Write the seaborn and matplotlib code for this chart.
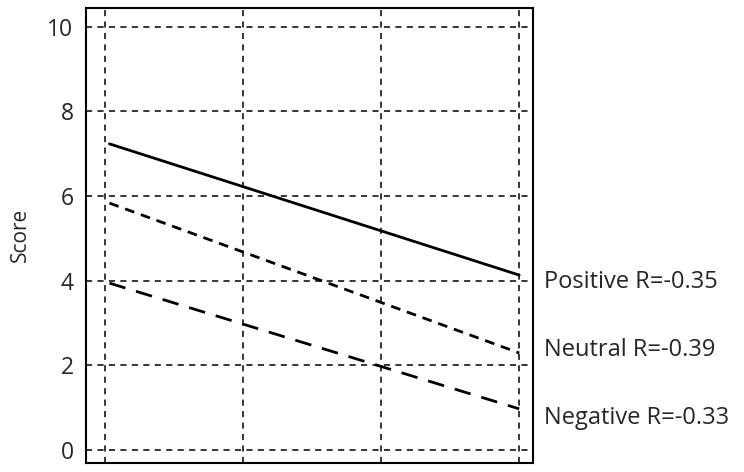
import matplotlib
matplotlib.use("Agg")
import matplotlib.pyplot as plt
import seaborn as sns
import pandas as pd

groups = ["Positive", "Neutral", "Negative"]
r_values = ["-0.35", "-0.39", "-0.33"]
x_start, x_end = 0.03, 3.0
start_scores = [7.23, 5.83, 3.94]
end_scores = [4.13, 2.29, 0.97]
label_y = [3.97, 2.36, 0.76]
y_ticks = [0, 2, 4, 6, 8, 10]
x_grid = [0, 1, 2, 3]

rows = []
for g, s, e in zip(groups, start_scores, end_scores):
    rows.append({"x": x_start, "Score": s, "group": g})
    rows.append({"x": x_end, "Score": e, "group": g})
df = pd.DataFrame(rows)

sns.set_style("white")
plt.rcParams['font.family'] = ['Open Sans', 'DejaVu Sans']

fig = plt.figure(figsize=(7.44, 4.72), dpi=100)
ax = fig.add_axes([0.1156, 0.019, 0.6008, 0.965])

dashes = {"Positive": "", "Neutral": (3.5, 2.5), "Negative": (6, 4)}
sns.lineplot(data=df, x="x", y="Score", style="group", dashes=dashes,
             color="black", linewidth=2, legend=False, ax=ax)

ax.set_xlim(-0.14, 3.1)
ax.set_ylim(-0.31, 10.45)
ax.set_xticks(x_grid)
ax.set_xticklabels([])
ax.set_yticks(y_ticks)
ax.set_yticklabels([str(t) for t in y_ticks], fontsize=16.5)
ax.tick_params(axis='both', length=0, pad=9)
ax.grid(True, color="black", linestyle=(0, (4, 3.5)), linewidth=1.1)
ax.set_xlabel("")
ax.set_ylabel("Score", fontsize=15, labelpad=12)
for sp in ax.spines.values():
    sp.set_color("black")
    sp.set_linewidth(1.5)

for g, r, ly in zip(groups, r_values, label_y):
    ax.text(3.18, ly, f"{g} R={r}", fontsize=17, va="center", ha="left",
            clip_on=False)

fig.savefig("out.png", dpi=100)
